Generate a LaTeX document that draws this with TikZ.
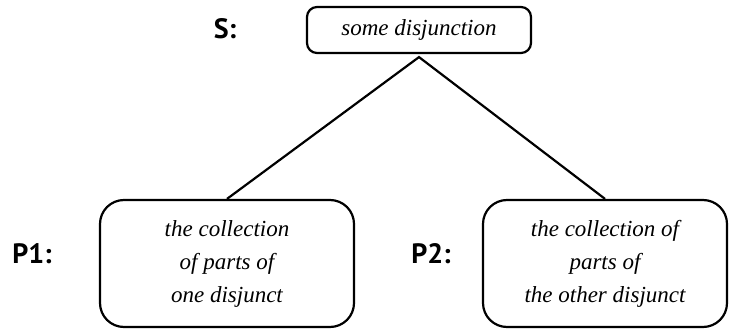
\documentclass[tikz,border=0pt]{standalone}
\usepackage{fontspec}
\setmainfont{Liberation Serif}
\newfontfamily\labelfont{PT Sans}
\usetikzlibrary{positioning}

\begin{document}
\begin{tikzpicture}[x=0.5pt, y=-0.5pt,
  part/.style = {draw, line width=1.1pt, shape = rectangle, rounded corners=12pt, align=center, inner sep=0pt, font=\fontsize{11.5}{16.5}\selectfont\itshape},
  tag/.style = {font=\labelfont\bfseries\fontsize{14}{16}\selectfont}]
\useasboundingbox (0,0) rectangle (731,330);
\node[part, rounded corners=5pt, minimum width=112pt, minimum height=23pt] (s) at (419,30) {some disjunction};
\node[part, minimum width=127pt, minimum height=63.5pt] (p1) at (227,263.5) {the collection\\ of parts of\\ one disjunct};
\node[part, minimum width=122pt, minimum height=63.5pt] (p2) at (605,263.5) {the collection of\\ parts of\\ the other disjunct};
\coordinate[below=1.5pt of s.south] (fork);
\node[tag] (s label) at (225,29) {S:};
\node[tag] (p1 label) at (32,254) {P1:};
\node[tag] (p2 label) at (431,254) {P2:};
\draw[line width=1.1pt] (p1.north) -- (fork) -- (p2.north);
\end{tikzpicture}
\end{document}
